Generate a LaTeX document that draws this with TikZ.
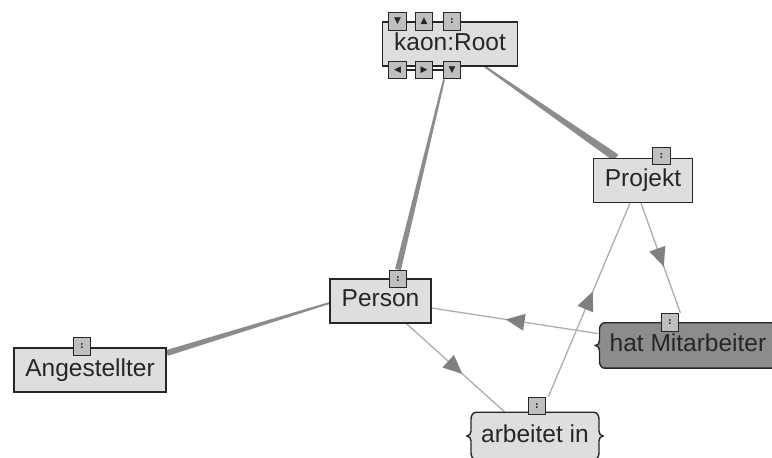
\documentclass[tikz,border=0pt]{standalone}
\usepackage{fontspec}
\setmainfont{Liberation Sans}
\newfontfamily\symfont{DejaVu Sans}
\usetikzlibrary{positioning}
\usetikzlibrary{calc}
\usetikzlibrary{backgrounds}
\usetikzlibrary{decorations.markings}

% tapered subclass line, thin at the first node, thick at the second
\newcommand{\taperedge}[4]{%
  \fill[taper] ($(#1)!#3!90:(#2)$) -- ($(#1)!#3!-90:(#2)$)
    -- ($(#2)!#4!90:(#1)$) -- ($(#2)!#4!-90:(#1)$) -- cycle;}

% box with brace-like ends
\newcommand{\bracebox}[2]{%
  \filldraw[boxline,fill=#2]
    ([xshift=7pt]#1.north west) -- ([xshift=-7pt]#1.north east)
    to[out=0,in=90] ([xshift=-2pt,yshift=-7pt]#1.north east)
    -- ([xshift=-2pt,yshift=5pt]#1.east)
    to[out=-90,in=180] ([xshift=2pt]#1.east)
    to[out=180,in=90] ([xshift=-2pt,yshift=-5pt]#1.east)
    -- ([xshift=-2pt,yshift=7pt]#1.south east)
    to[out=-90,in=0] ([xshift=-7pt]#1.south east)
    -- ([xshift=7pt]#1.south west)
    to[out=180,in=-90] ([xshift=2pt,yshift=7pt]#1.south west)
    -- ([xshift=2pt,yshift=-5pt]#1.west)
    to[out=90,in=0] ([xshift=-2pt]#1.west)
    to[out=0,in=-90] ([xshift=2pt,yshift=5pt]#1.west)
    -- ([xshift=2pt,yshift=-7pt]#1.north west)
    to[out=90,in=180] ([xshift=7pt]#1.north west) -- cycle;}

\begin{document}
\begin{tikzpicture}
[x=1pt,y=1pt,
 boxline/.style={draw=black!85,line width=1.4pt},
 concept/.style={shape=rectangle,boxline,fill=black!13,text=black!85,
   font=\fontsize{24.5}{28}\selectfont,inner xsep=11.5pt,
   minimum height=44pt,text depth=5pt},
 property/.style={concept,draw=none,fill=none},
 handle/.style={shape=rectangle,draw=black!85,line width=1.4pt,fill=black!25,
   minimum size=17.5pt,inner sep=0pt,text=black!85,font=\symfont\fontsize{9}{9}\selectfont},
 taper/.style={fill=black!45},
 relation/.style={draw=black!32,line width=1.3pt,postaction={decorate},
   decoration={markings,mark=at position 0.5 with
     {\fill[black!50] (9pt,0) -- (-10pt,8.5pt) -- (-10pt,-8.5pt) -- cycle;}}}]

\useasboundingbox (0,0) rectangle (772,458);

% concepts
\node (root) [concept] at (450,414) {kaon:Root};
\node (projekt) [concept] at (643,277.5) {Projekt};
\node (person) [concept] at (380.5,157) {Person};
\node (angest) [concept] at (90,88) {Angestellter};

% properties
\node (hatm) [property] at (688,112.5) {hat Mitarbeiter};
\node (arbeitet) [property,minimum height=46pt] at (535,22) {arbeitet in};

% handles
\node (rt1) [handle] at (397.5,436.5) {▼};
\node (rt2) [handle] at (424,436.5) {▲};
\node (rt3) [handle] at (452,436.5) {\textbf{:}};
\node (rb1) [handle] at (397.5,388) {◀};
\node (rb2) [handle] at (424,388) {▶};
\node (rb3) [handle] at (452,388) {▼};
\node (projekth) [handle] at (661.5,302) {\textbf{:}};
\node (personh) [handle] at (398,179) {\textbf{:}};
\node (angesth) [handle] at (82,111.5) {\textbf{:}};
\node (hatmh) [handle] at (670,135.5) {\textbf{:}};
\node (arbeiteth) [handle] at (537,52) {\textbf{:}};

\begin{scope}[on background layer]
% connections between the handles
\draw[boxline,line width=1.2pt] (rt1) -- (rt2) -- (rt3);
\draw[boxline,line width=1.2pt] (rb1) -- (rb2) -- (rb3);

% subclass lines
\taperedge{[xshift=-8pt]rb3.south}{personh.north}{1pt}{3pt}
\taperedge{[xshift=35pt]root.south}{[xshift=-27pt]projekt.north}{1pt}{4pt}
\taperedge{[yshift=-2pt]person.west}{[yshift=17pt]angest.east}{1pt}{3pt}

% domain and range lines
\draw[relation] ([xshift=26pt]person.south) -- ([xshift=-30pt]arbeitet.north);
\draw[relation] ([yshift=12pt]hatm.west) -- ([yshift=-7pt]person.east);
\draw[relation] ([xshift=2pt]arbeiteth.north east) -- ([xshift=-13pt]projekt.south);
\draw[relation] ([xshift=-2pt]projekt.south) -- ([xshift=1pt]hatmh.north east);

% property boxes
\bracebox{hatm}{black!45}
\bracebox{arbeitet}{black!13}
\end{scope}
\end{tikzpicture}
\end{document}
